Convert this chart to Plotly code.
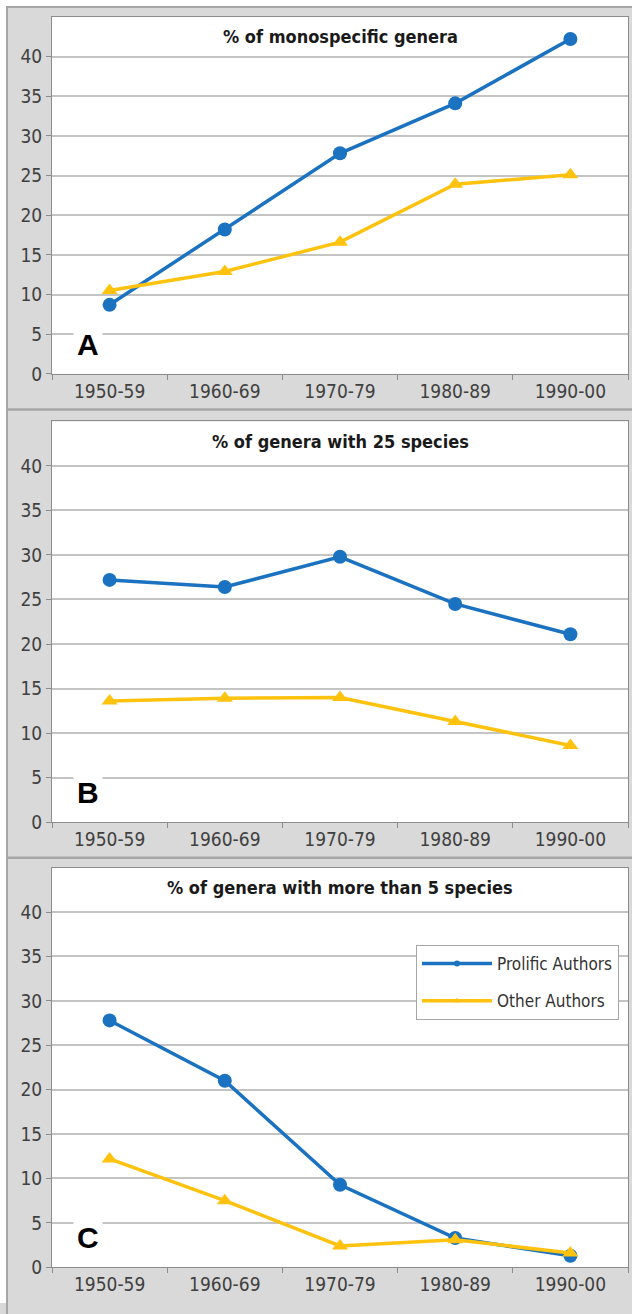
import plotly.graph_objects as go

periods = ["1950-59", "1960-69", "1970-79", "1980-89", "1990-00"]
titles = ["% of monospecific genera", "% of genera with 25 species", "% of genera with more than 5 species"]
panel_labels = ["A", "B", "C"]
prolific_A = [8.7, 18.2, 27.8, 34.1, 42.2]
other_A = [10.5, 12.9, 16.6, 23.9, 25.1]
prolific_B = [27.2, 26.4, 29.8, 24.5, 21.1]
other_B = [13.6, 13.9, 14.0, 11.3, 8.6]
prolific_C = [27.8, 21.0, 9.3, 3.3, 1.3]
other_C = [12.2, 7.5, 2.4, 3.1, 1.6]
yticks = [0, 5, 10, 15, 20, 25, 30, 35, 40]

W, H = 632, 1314
BLUE = "#1a72c0"
YELLOW = "#ffc20e"
FONT = "DejaVu Sans Condensed, Liberation Sans Narrow, sans-serif"

# plot-area pixel boxes in window coordinates (top, bottom)
plots = [(17, 377), (425, 829), (875, 1278)]
panels = [(7, 413), (413, 865), (865, 1330)]
x0px, x1px = 52, 628


def fx(px):
    return px / W


def fy(py):
    return 1 - py / H


series = [(prolific_A, other_A), (prolific_B, other_B), (prolific_C, other_C)]

fig = go.Figure()
for i, (pro, oth) in enumerate(series):
    sfx = "" if i == 0 else str(i + 1)
    fig.add_trace(go.Scatter(x=periods, y=pro, mode="lines+markers", xaxis="x" + sfx, yaxis="y" + sfx,
                             line=dict(color=BLUE, width=3.5), marker=dict(symbol="circle", size=14, color=BLUE),
                             showlegend=False))
    fig.add_trace(go.Scatter(x=periods, y=oth, mode="lines+markers", xaxis="x" + sfx, yaxis="y" + sfx,
                             line=dict(color=YELLOW, width=3.5), marker=dict(symbol="triangle-up", size=14, color=YELLOW),
                             showlegend=False))

# legend-only entries
fig.add_trace(go.Scatter(x=[None], y=[None], mode="lines+markers", name="Prolific Authors", xaxis="x3", yaxis="y3",
                         line=dict(color=BLUE, width=3.5), marker=dict(symbol="circle", size=6, color=BLUE),
                         legendgroup="p"))
fig.add_trace(go.Scatter(x=[None], y=[None], mode="lines+markers", name="Other Authors", xaxis="x3", yaxis="y3",
                         line=dict(color=YELLOW, width=3.5), marker=dict(symbol="triangle-up", size=6, color=YELLOW),
                         legendgroup="o"))

layout = dict(width=W, height=H, margin=dict(l=0, r=0, t=0, b=0),
              paper_bgcolor="#d9d9d9", plot_bgcolor="white",
              font=dict(family=FONT, size=19, color="#404040"))

shapes = [
    dict(type="rect", xref="paper", yref="paper", x0=0, x1=1, y0=fy(7), y1=1,
         line=dict(width=0), fillcolor="white", layer="below"),
    dict(type="rect", xref="paper", yref="paper", x0=0, x1=fx(7), y0=0, y1=1,
         line=dict(width=0), fillcolor="white", layer="below"),
]
annotations = []
for i, ((top, bot), (ptop, pbot)) in enumerate(zip(plots, panels)):
    sfx = "" if i == 0 else str(i + 1)
    dom = [max(0, fy(bot)), fy(top)]
    layout["xaxis" + sfx] = dict(domain=[fx(x0px), fx(x1px)], anchor="y" + sfx, type="category",
                                 range=[-0.5, 4.5], showline=True, linecolor="#8c8c8c", linewidth=1, mirror=True,
                                 ticks="outside", ticklen=5, tickcolor="#8c8c8c", tickson="boundaries",
                                 showgrid=False, tickfont=dict(size=19, color="#404040"))
    layout["yaxis" + sfx] = dict(domain=dom, anchor="x" + sfx, range=[0, 45], tickvals=yticks,
                                 showline=True, linecolor="#8c8c8c", linewidth=1, mirror=True,
                                 ticks="outside", ticklen=5, tickcolor="#8c8c8c",
                                 showgrid=True, gridcolor="#c4c4c4", gridwidth=1.5, zeroline=False,
                                 tickfont=dict(size=19, color="#404040"))
    shapes.append(dict(type="rect", xref="paper", yref="paper", x0=fx(7), x1=1.05, y0=fy(pbot), y1=fy(ptop),
                       line=dict(color="#a6a6a6", width=2), fillcolor="rgba(0,0,0,0)", layer="below"))
    annotations.append(dict(text="<b>" + titles[i] + "</b>", xref="paper", yref="paper",
                            x=fx((x0px + x1px) / 2), y=fy(top + 20), xanchor="center", yanchor="middle",
                            showarrow=False, font=dict(size=18, color="#1a1a1a", family=FONT)))
    annotations.append(dict(text="<b>" + panel_labels[i] + "</b>", xref="paper", yref="paper",
                            x=fx(88), y=fy(bot - 30), xanchor="center", yanchor="middle",
                            showarrow=False, bgcolor="white", borderpad=3,
                            font=dict(size=30, color="black", family="Liberation Sans, Arial, sans-serif")))

layout["shapes"] = shapes
layout["annotations"] = annotations
layout["legend"] = dict(x=fx(416), y=fy(953), xanchor="left", yanchor="top", bgcolor="white",
                        bordercolor="#a6a6a6", borderwidth=1, tracegroupgap=12, itemwidth=70,
                        font=dict(size=17, color="#333333", family=FONT))
fig.update_layout(**layout)
fig.write_html("out.html", config={"displayModeBar": False},
               post_script="document.body.style.margin='0';")
